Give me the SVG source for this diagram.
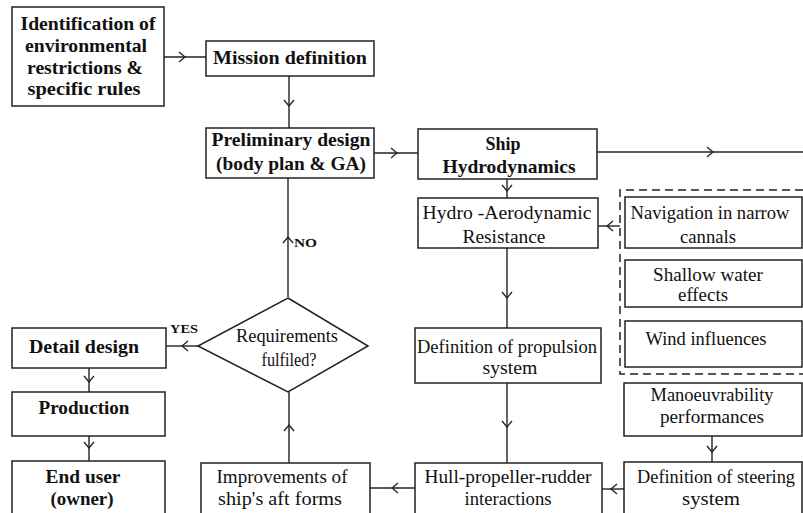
<svg xmlns="http://www.w3.org/2000/svg" width="803" height="513" viewBox="0 0 803 513">
<style>
.b{fill:#fff;stroke:#222;stroke-width:1.5}
.t{font-family:"Liberation Serif","DejaVu Serif","Noto Serif","Times New Roman",serif;font-size:19px;fill:#111;text-anchor:middle}
.tb{font-family:"Liberation Serif","DejaVu Serif","Noto Serif","Times New Roman",serif;font-size:19px;font-weight:bold;fill:#111;text-anchor:middle}
.lb{font-family:"Liberation Serif","DejaVu Serif","Noto Serif","Times New Roman",serif;font-size:13px;font-weight:bold;fill:#111}
.c{fill:none;stroke:#222;stroke-width:1.4;marker-mid:url(#chev)}
</style>
<defs>
<marker id="chev" viewBox="0 0 8 12" refX="7" refY="6" markerWidth="8" markerHeight="12" markerUnits="userSpaceOnUse" orient="auto">
<path d="M1,1 L7,6 L1,11" fill="none" stroke="#222" stroke-width="1.3"/>
</marker>
</defs>
<rect width="803" height="513" fill="#fff"/>
<g id="connectors">
<polyline class="c" points="164,57 185,57 206,57"/>
<polyline class="c" points="289,76 289,106 289,128"/>
<polyline class="c" points="374,153 397,153 418,153"/>
<polyline class="c" points="597,152 713,152 803,152"/>
<polyline class="c" points="507,179 507,191 507,198"/>
<polyline class="c" points="620,226 607,226 598,226"/>
<polyline class="c" points="507,248 507,298 507,328"/>
<polyline class="c" points="507,383 507,427 507,463"/>
<polyline class="c" points="712,436 712,452 712,462"/>
<polyline class="c" points="624,489 611,489 602,489"/>
<polyline class="c" points="415,488 392,488 370,488"/>
<polyline class="c" points="289,463 289,425 289,392"/>
<polyline class="c" points="288,297 288,237 288,178"/>
<polyline class="c" points="198,346 182,346 166,346"/>
<polyline class="c" points="89,368 89,382 89,392"/>
<polyline class="c" points="89,436 89,448 89,461"/>
<path d="M803,190 H620 V374 H803" fill="none" stroke="#222" stroke-width="1.5" stroke-dasharray="8,5"/>
<text class="lb" x="170" y="333" textLength="28" lengthAdjust="spacingAndGlyphs">YES</text>
<text class="lb" x="294" y="247" textLength="23" lengthAdjust="spacingAndGlyphs">NO</text>
</g>
<g id="identification">
<rect class="b" x="12" y="7" width="152" height="99"/>
<text class="tb" x="88" y="30" textLength="135" lengthAdjust="spacingAndGlyphs">Identification of</text>
<text class="tb" x="86" y="52" textLength="122" lengthAdjust="spacingAndGlyphs">environmental</text>
<text class="tb" x="85" y="74" textLength="116" lengthAdjust="spacingAndGlyphs">restrictions &amp;</text>
<text class="tb" x="84" y="95" textLength="113" lengthAdjust="spacingAndGlyphs">specific rules</text>
</g>
<g id="mission">
<rect class="b" x="206" y="41" width="168" height="35"/>
<text class="tb" x="290" y="64" textLength="154" lengthAdjust="spacingAndGlyphs">Mission definition</text>
</g>
<g id="preliminary">
<rect class="b" x="206" y="128" width="168" height="50"/>
<text class="tb" x="291" y="146" textLength="159" lengthAdjust="spacingAndGlyphs">Preliminary design</text>
<text class="tb" x="291" y="170" textLength="150" lengthAdjust="spacingAndGlyphs">(body plan &amp; GA)</text>
</g>
<g id="ship-hydro">
<rect class="b" x="418" y="129" width="179" height="50"/>
<text class="tb" x="503" y="150" textLength="35" lengthAdjust="spacingAndGlyphs">Ship</text>
<text class="tb" x="509" y="173" textLength="133" lengthAdjust="spacingAndGlyphs">Hydrodynamics</text>
</g>
<g id="hydro-aero">
<rect class="b" x="418" y="198" width="180" height="50"/>
<text class="t" x="507" y="219" textLength="169" lengthAdjust="spacingAndGlyphs">Hydro -Aerodynamic</text>
<text class="t" x="504" y="243" textLength="83" lengthAdjust="spacingAndGlyphs">Resistance</text>
</g>
<g id="navigation">
<rect class="b" x="625" y="197" width="177" height="51"/>
<text class="t" x="710" y="219" textLength="159" lengthAdjust="spacingAndGlyphs">Navigation in narrow</text>
<text class="t" x="708" y="243" textLength="56" lengthAdjust="spacingAndGlyphs">cannals</text>
</g>
<g id="shallow">
<rect class="b" x="625" y="260" width="177" height="47"/>
<text class="t" x="708" y="281" textLength="110" lengthAdjust="spacingAndGlyphs">Shallow water</text>
<text class="t" x="703" y="301" textLength="50" lengthAdjust="spacingAndGlyphs">effects</text>
</g>
<g id="wind">
<rect class="b" x="625" y="321" width="177" height="46"/>
<text class="t" x="706" y="345" textLength="121" lengthAdjust="spacingAndGlyphs">Wind influences</text>
</g>
<g id="propulsion">
<rect class="b" x="415" y="328" width="186" height="55"/>
<text class="t" x="507" y="353" textLength="180" lengthAdjust="spacingAndGlyphs">Definition of propulsion</text>
<text class="t" x="510" y="374" textLength="55" lengthAdjust="spacingAndGlyphs">system</text>
</g>
<g id="manoeuvrability">
<rect class="b" x="624" y="383" width="178" height="53"/>
<text class="t" x="712" y="401" textLength="123" lengthAdjust="spacingAndGlyphs">Manoeuvrability</text>
<text class="t" x="712" y="423" textLength="104" lengthAdjust="spacingAndGlyphs">performances</text>
</g>
<g id="steering">
<rect class="b" x="624" y="462" width="178" height="60"/>
<text class="t" x="716" y="483" textLength="158" lengthAdjust="spacingAndGlyphs">Definition of steering</text>
<text class="t" x="711" y="505" textLength="58" lengthAdjust="spacingAndGlyphs">system</text>
</g>
<g id="hull">
<rect class="b" x="415" y="463" width="187" height="60"/>
<text class="t" x="508" y="483" textLength="167" lengthAdjust="spacingAndGlyphs">Hull-propeller-rudder</text>
<text class="t" x="508" y="505" textLength="87" lengthAdjust="spacingAndGlyphs">interactions</text>
</g>
<g id="improvements">
<rect class="b" x="201" y="463" width="169" height="60"/>
<text class="t" x="282" y="483" textLength="131" lengthAdjust="spacingAndGlyphs">Improvements of</text>
<text class="t" x="280" y="505" textLength="124" lengthAdjust="spacingAndGlyphs">ship's aft forms</text>
</g>
<g id="requirements">
<polygon class="b" points="288,298 368,346 288,392 198,346"/>
<text class="t" x="287" y="342" textLength="102" lengthAdjust="spacingAndGlyphs">Requirements</text>
<text class="t" x="289" y="366" textLength="55" lengthAdjust="spacingAndGlyphs">fulfiled?</text>
</g>
<g id="detail">
<rect class="b" x="12" y="328" width="154" height="40"/>
<text class="tb" x="84" y="353" textLength="110" lengthAdjust="spacingAndGlyphs">Detail design</text>
</g>
<g id="production">
<rect class="b" x="12" y="392" width="153" height="44"/>
<text class="tb" x="84" y="414" textLength="91" lengthAdjust="spacingAndGlyphs">Production</text>
</g>
<g id="end-user">
<rect class="b" x="12" y="461" width="153" height="62"/>
<text class="tb" x="83" y="483" textLength="75" lengthAdjust="spacingAndGlyphs">End user</text>
<text class="tb" x="82" y="505" textLength="63" lengthAdjust="spacingAndGlyphs">(owner)</text>
</g>
</svg>
